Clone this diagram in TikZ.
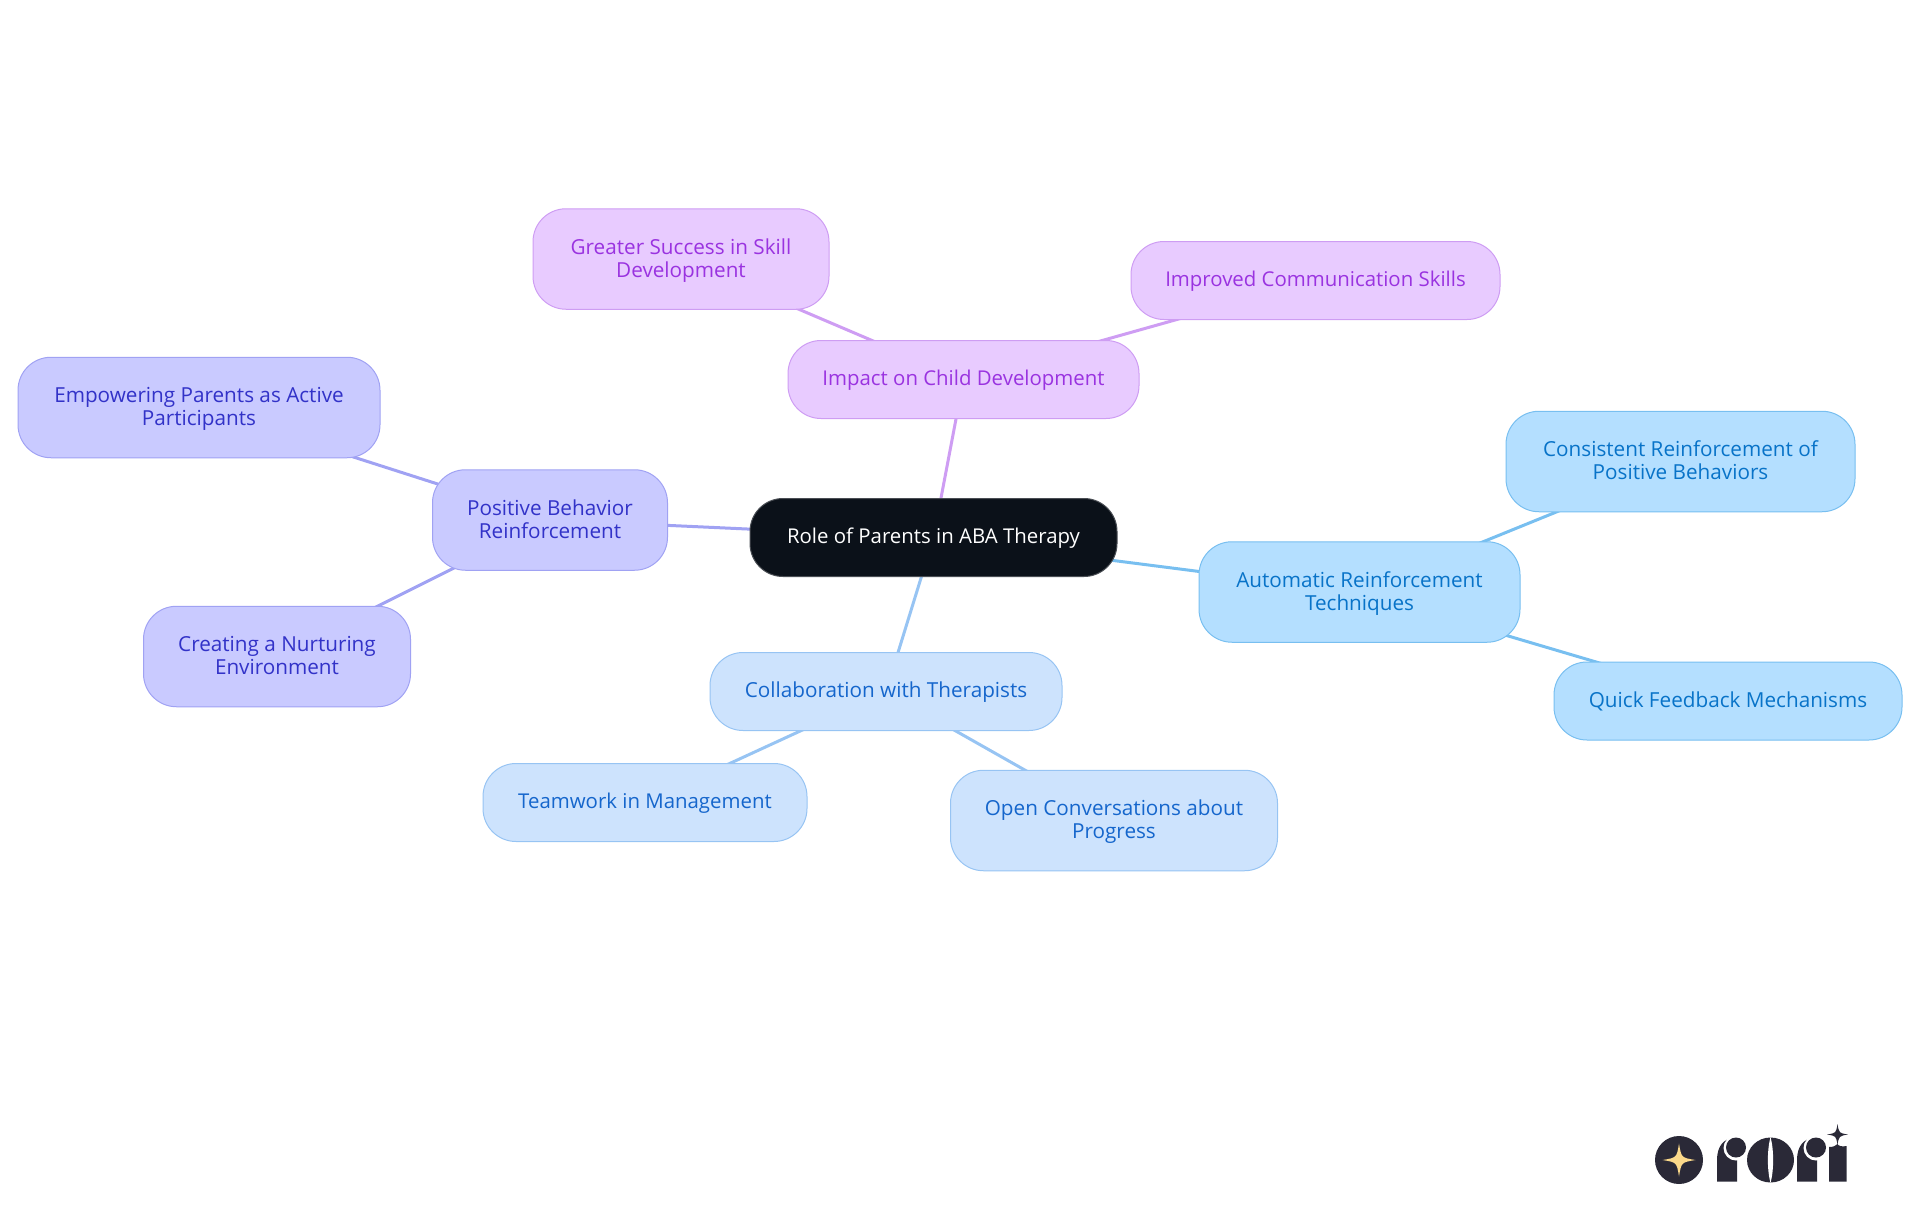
\documentclass[tikz,border=0pt]{standalone}
\usepackage{fontspec}
\setmainfont{Open Sans}
\usetikzlibrary{backgrounds}
\definecolor{rootfill}{HTML}{0B1119}
\definecolor{rootline}{HTML}{4A4E54}
\definecolor{purfill}{HTML}{E8CBFF}
\definecolor{purline}{HTML}{CE9DF3}
\definecolor{purtext}{HTML}{9A33E0}
\definecolor{indfill}{HTML}{C9CAFF}
\definecolor{indline}{HTML}{A0A2F3}
\definecolor{indtext}{HTML}{3232C8}
\definecolor{blufill}{HTML}{CDE3FD}
\definecolor{bluline}{HTML}{97C4F3}
\definecolor{blutext}{HTML}{1566CC}
\definecolor{skyfill}{HTML}{B4DFFF}
\definecolor{skyline}{HTML}{78BFF0}
\definecolor{skytext}{HTML}{0873C8}
\definecolor{logoink}{HTML}{2A2937}
\definecolor{logostar}{HTML}{FBD98A}
\newcommand{\topstrut}{\rule{0pt}{18pt}}
\newcommand{\tallstrut}{\rule{0pt}{42pt}}
\newcommand{\botstrut}{\rule[-6pt]{0pt}{6pt}}
\tikzset{
  x=1pt,y=-1pt,
  mapnode/.style={rectangle,rounded corners=33pt,line width=1pt,inner sep=0pt,align=center,
    font=\fontsize{20.7}{23}\selectfont,
    execute at begin node=\topstrut,execute at end node=\botstrut},
  twoline/.style={minimum height=100.5pt,execute at begin node=\tallstrut},
  oneline/.style={minimum height=78pt},
  narrowtext/.style={font=\fontsize{20.4}{23}\selectfont},
  rootnode/.style={mapnode,fill=rootfill,draw=rootline,text=white},
  purnode/.style={mapnode,fill=purfill,draw=purline,text=purtext},
  indnode/.style={mapnode,fill=indfill,draw=indline,text=indtext},
  blunode/.style={mapnode,fill=blufill,draw=bluline,text=blutext},
  skynode/.style={mapnode,fill=skyfill,draw=skyline,text=skytext},
  puredge/.style={draw=purline,line width=3pt},
  indedge/.style={draw=indline,line width=3pt},
  bluedge/.style={draw=bluline,line width=3pt},
  skyedge/.style={draw=skyline,line width=3pt},
}
\newcommand{\fourstar}[4]{\fill[#4] ({#1-#3},#2)
  .. controls ({#1-0.14*#3},{#2-0.14*#3}) .. (#1,{#2-#3})
  .. controls ({#1+0.14*#3},{#2-0.14*#3}) .. ({#1+#3},#2)
  .. controls ({#1+0.14*#3},{#2+0.14*#3}) .. (#1,{#2+#3})
  .. controls ({#1-0.14*#3},{#2+0.14*#3}) .. cycle;}
\begin{document}
\begin{tikzpicture}
\useasboundingbox (0,0) rectangle (1920,1215);
\node[rootnode,oneline,narrowtext,minimum width=367pt] (root) at (933.5,537.5) {Role of Parents in ABA Therapy};
\node[purnode,oneline,narrowtext,minimum width=351pt] (impact) at (963.5,379.5) {Impact on Child Development};
\node[purnode,twoline,minimum width=296pt] (greater) at (681,259) {Greater Success in Skill\\Development};
\node[purnode,oneline,narrowtext,minimum width=369pt] (improved) at (1315.5,280.5) {Improved Communication Skills};
\node[indnode,twoline,minimum width=235pt] (positive) at (550,520) {Positive Behavior\\Reinforcement};
\node[indnode,twoline,minimum width=362pt] (empower) at (199,407.5) {Empowering Parents as Active\\Participants};
\node[indnode,twoline,minimum width=267pt] (creating) at (277,656.5) {Creating a Nurturing\\Environment};
\node[blunode,oneline,minimum width=352pt] (collab) at (886,691.5) {Collaboration with Therapists};
\node[blunode,oneline,narrowtext,minimum width=324pt] (team) at (645,802.5) {Teamwork in Management};
\node[blunode,twoline,minimum width=327pt] (open) at (1114,820.5) {Open Conversations about\\Progress};
\node[skynode,twoline,minimum width=321pt] (auto) at (1359.5,592) {Automatic Reinforcement\\Techniques};
\node[skynode,twoline,minimum width=349pt] (consistent) at (1680.5,461.5) {Consistent Reinforcement of\\Positive Behaviors};
\node[skynode,oneline,minimum width=348pt] (quick) at (1728,701) {Quick Feedback Mechanisms};
\begin{scope}[on background layer]
\draw[puredge] (root.center) -- (impact.center);
\draw[puredge] (impact.center) -- (greater.center);
\draw[puredge] (impact.center) -- (improved.center);
\draw[indedge] (root.center) -- (positive.center);
\draw[indedge] (positive.center) -- (empower.center);
\draw[indedge] (positive.center) -- (creating.center);
\draw[bluedge] (root.center) -- (collab.center);
\draw[bluedge] (collab.center) -- (team.center);
\draw[bluedge] (collab.center) -- (open.center);
\draw[skyedge] (root.center) -- (auto.center);
\draw[skyedge] (auto.center) -- (consistent.center);
\draw[skyedge] (auto.center) -- (quick.center);
\end{scope}
% logo
\fill[logoink] (1679,1160) circle (24);
\fourstar{1679}{1160}{16.5}{logostar}
\fill[logoink] (1717,1181.5) -- (1717,1160) .. controls (1717,1147) and (1723,1139) .. (1733,1138) -- (1737,1160) -- (1737,1181.5) -- cycle;
\fill[white] (1736,1148) circle (12.5);
\fill[logoink] (1736,1147.5) circle (10);
\fill[logoink] (1770.5,1160) ellipse (23.5 and 22.5);
\fill[white] (1770.5,1137) .. controls (1767,1150) and (1767,1170) .. (1770.5,1183) .. controls (1774,1170) and (1774,1150) .. (1770.5,1137) -- cycle;
\fill[logoink] (1797,1181.5) -- (1797,1160) .. controls (1797,1147) and (1803,1139) .. (1813,1138) -- (1817,1160) -- (1817,1181.5) -- cycle;
\fill[white] (1816,1148) circle (12.5);
\fill[logoink] (1816,1147.5) circle (10);
\fill[logoink] (1829,1181.5) -- (1829,1147) .. controls (1833,1147) and (1836,1146) .. (1837.5,1144) .. controls (1838.5,1146) and (1842,1147) .. (1846.5,1146) -- (1846.5,1181.5) -- cycle;
\fourstar{1837.5}{1134.5}{10.5}{logoink}
\end{tikzpicture}
\end{document}
